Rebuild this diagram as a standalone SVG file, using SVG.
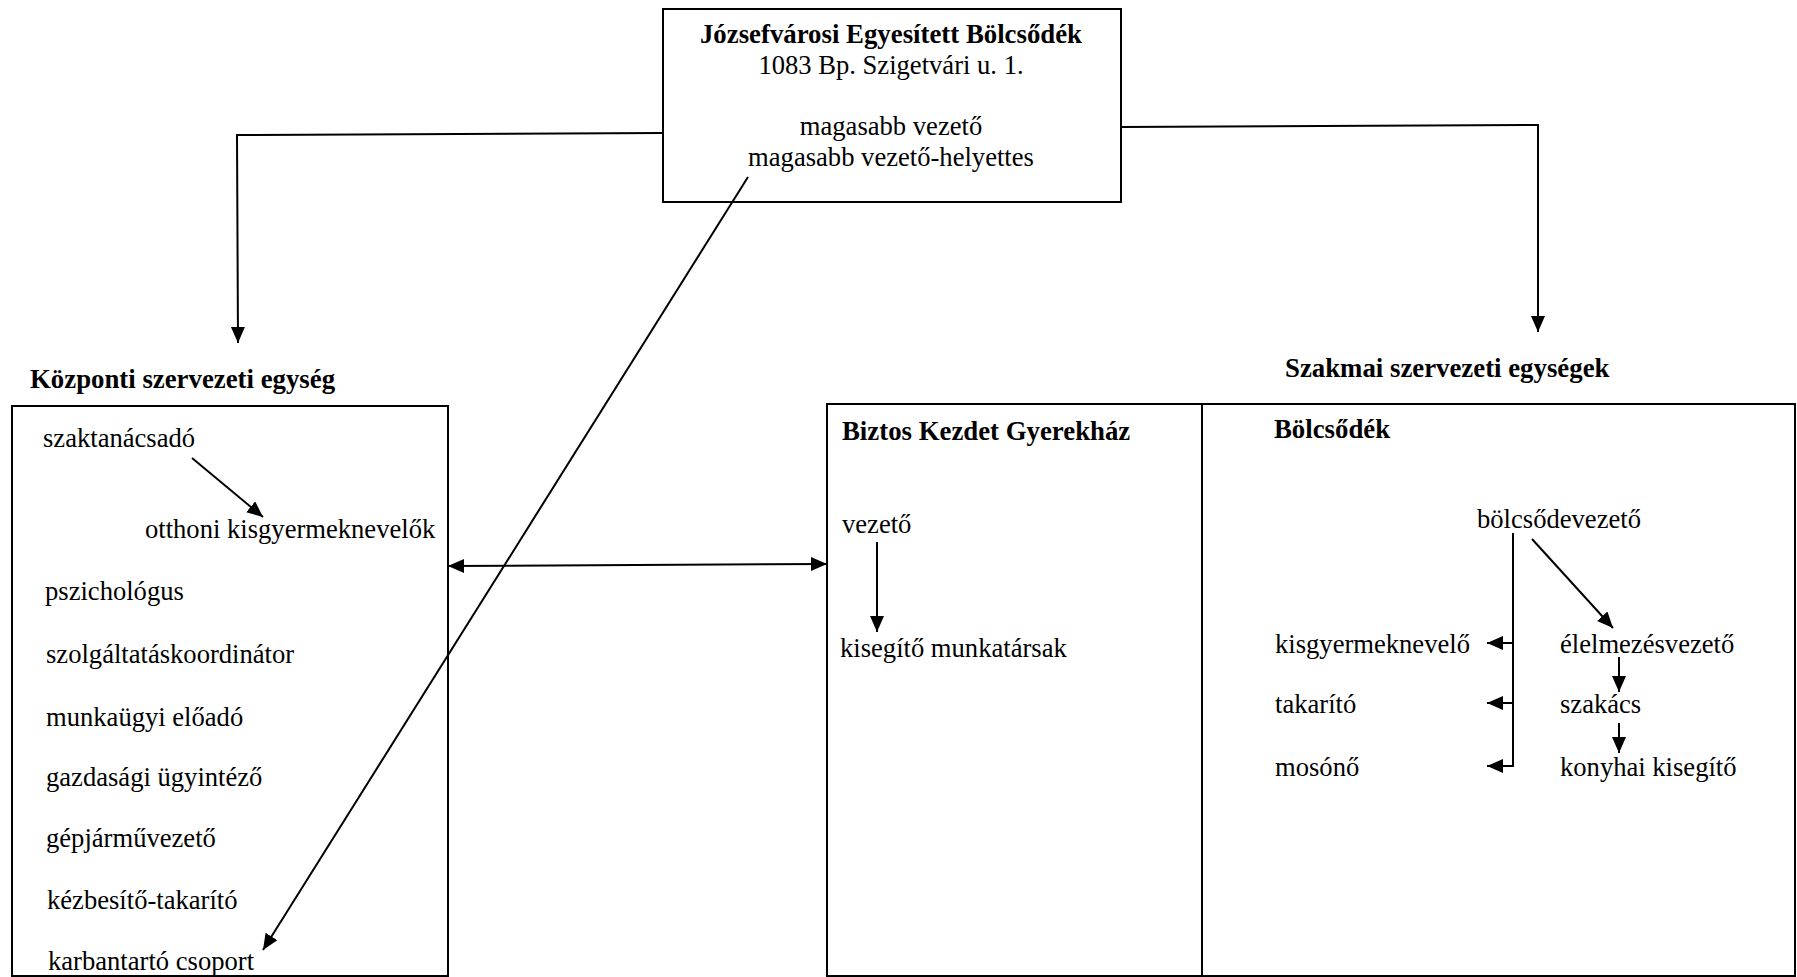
<svg xmlns="http://www.w3.org/2000/svg" width="1797" height="977" viewBox="0 0 1797 977">
<defs>
<marker id="ah" markerUnits="userSpaceOnUse" markerWidth="17" markerHeight="15" refX="16" refY="7" orient="auto-start-reverse" viewBox="0 0 17 15">
<path d="M0,0 L16,7 L0,14 z" fill="#000"/>
</marker>
</defs>
<style>
text{font-family:"Liberation Serif","Times New Roman",serif;font-size:26.6px;fill:#000}
.b{font-weight:bold;font-size:26.8px}
.box{fill:#fff;stroke:#000;stroke-width:2}
.c{fill:none;stroke:#000;stroke-width:2}
.a{marker-end:url(#ah)}
.mid{text-anchor:middle}
</style>
<rect width="1797" height="977" fill="#fff"/>
<g id="top">
<rect class="box" x="663" y="9" width="458" height="193"/>
<text class="b mid" x="891" y="43">Józsefvárosi Egyesített Bölcsődék</text>
<text class="mid" x="891" y="74">1083 Bp. Szigetvári u. 1.</text>
<text class="mid" x="891" y="135">magasabb vezető</text>
<text class="mid" x="891" y="166">magasabb vezető-helyettes</text>
</g>
<g id="kozponti">
<text class="b" x="30" y="388">Központi szervezeti egység</text>
<rect class="box" x="12" y="406" width="436" height="570"/>
<text x="43" y="447">szaktanácsadó</text>
<text x="145" y="538">otthoni kisgyermeknevelők</text>
<text x="45" y="600">pszichológus</text>
<text x="46" y="663">szolgáltatáskoordinátor</text>
<text x="46" y="726">munkaügyi előadó</text>
<text x="46" y="786">gazdasági ügyintéző</text>
<text x="46" y="847">gépjárművezető</text>
<text x="47" y="909">kézbesítő-takarító</text>
<text x="48" y="970">karbantartó csoport</text>
</g>
<g id="szakmai">
<text class="b" x="1285" y="377">Szakmai szervezeti egységek</text>
<rect class="box" x="827" y="404" width="968" height="572"/>
<line class="c" x1="1202" y1="404" x2="1202" y2="976"/>
</g>
<g id="gyerekhaz">
<text class="b" x="842" y="440">Biztos Kezdet Gyerekház</text>
<text x="842" y="533">vezető</text>
<text x="840" y="657">kisegítő munkatársak</text>
</g>
<g id="bolcsodek">
<text class="b" x="1274" y="438">Bölcsődék</text>
<text x="1477" y="528">bölcsődevezető</text>
<text x="1275" y="653">kisgyermeknevelő</text>
<text x="1275" y="713">takarító</text>
<text x="1275" y="776">mosónő</text>
<text x="1560" y="653">élelmezésvezető</text>
<text x="1560" y="713">szakács</text>
<text x="1560" y="776">konyhai kisegítő</text>
</g>
<g id="connectors">
<polyline class="c a" points="663,133 237,135 238,343"/>
<polyline class="c a" points="1121,127 1538,125 1538,332"/>
<line class="c a" x1="748" y1="177" x2="263" y2="950"/>
<line class="c a" x1="448" y1="566" x2="827" y2="564" marker-start="url(#ah)"/>
<line class="c a" x1="192" y1="458" x2="263" y2="517"/>
<line class="c a" x1="877" y1="542" x2="877" y2="632"/>
<path class="c a" d="M1513,533 V766 H1487"/>
<path class="c a" d="M1513,643 H1487"/>
<path class="c a" d="M1513,703 H1487"/>
<line class="c a" x1="1532" y1="539" x2="1613" y2="628"/>
<line class="c a" x1="1619" y1="657" x2="1619" y2="692"/>
<line class="c a" x1="1619" y1="723" x2="1619" y2="753"/>
</g>
</svg>
